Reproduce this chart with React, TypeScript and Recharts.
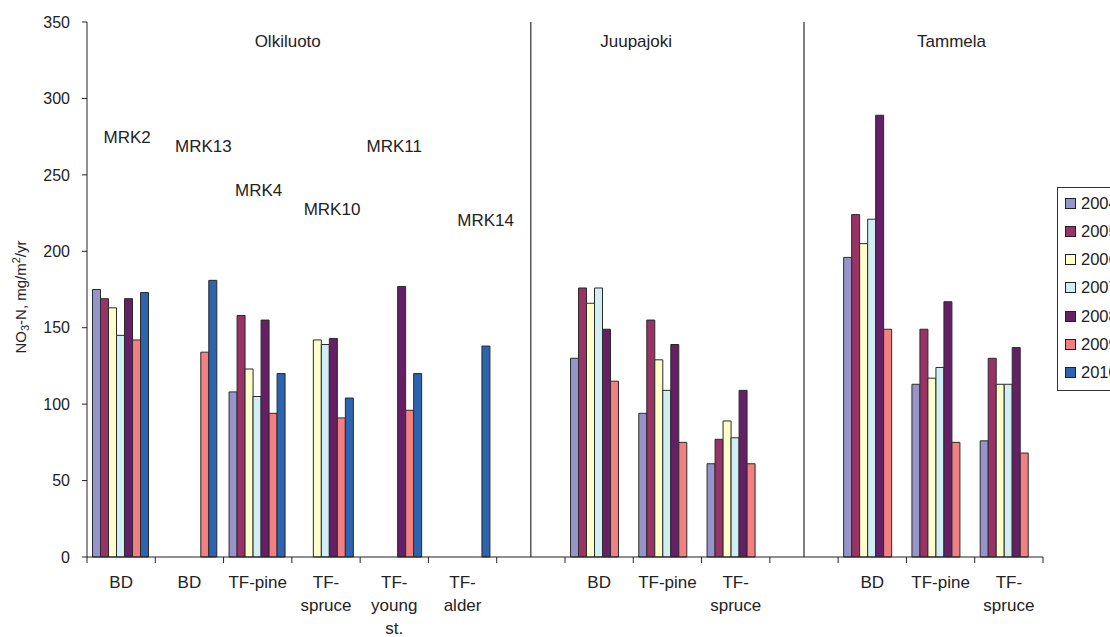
import React from "react";
import { BarChart, Bar, XAxis, YAxis, ReferenceLine, ReferenceDot } from "recharts";

const categories = [
  "BD", "BD", "TF-pine", "TF-\nspruce", "TF-\nyoung\nst.", "TF-\nalder", "",
  "BD", "TF-pine", "TF-\nspruce", "",
  "BD", "TF-pine", "TF-\nspruce",
];

const years = ["2004", "2005", "2006", "2007", "2008", "2009", "2010"];

const v2004 = [175, null, 108, null, null, null, null, 130, 94, 61, null, 196, 113, 76];
const v2005 = [169, null, 158, null, null, null, null, 176, 155, 77, null, 224, 149, 130];
const v2006 = [163, null, 123, 142, null, null, null, 166, 129, 89, null, 205, 117, 113];
const v2007 = [145, null, 105, 139, null, null, null, 176, 109, 78, null, 221, 124, 113];
const v2008 = [169, null, 155, 143, 177, null, null, 149, 139, 109, null, 289, 167, 137];
const v2009 = [142, 134, 94, 91, 96, null, null, 115, 75, 61, null, 149, 75, 68];
const v2010 = [173, 181, 120, 104, 120, 138, null, null, null, null, null, null, null, null];

const series = [v2004, v2005, v2006, v2007, v2008, v2009, v2010];
const colors = ["#9794C9", "#993366", "#FFFFCC", "#D0EEF4", "#651F66", "#F28080", "#2C64B0"];

const yTicks = [0, 50, 100, 150, 200, 250, 300, 350];

// separators sit in the empty categories
const separators = [6, 10];

// text placed in data coordinates (category index, value), dx nudges the text sideways
const notes = [
  { cat: 2, value: 337.5, text: "Olkiluoto", dx: 30 },
  { cat: 7, value: 337.5, text: "Juupajoki", dx: 37 },
  { cat: 12, value: 337.5, text: "Tammela", dx: 11 },
  { cat: 0, value: 275, text: "MRK2", dx: 6 },
  { cat: 1, value: 269, text: "MRK13", dx: 14 },
  { cat: 2, value: 240, text: "MRK4", dx: 1 },
  { cat: 3, value: 228, text: "MRK10", dx: 6 },
  { cat: 4, value: 269, text: "MRK11", dx: 0 },
  { cat: 5, value: 220.5, text: "MRK14", dx: 23 },
];

const data = categories.map((label, i) => {
  const row: any = { id: "c" + i, label };
  years.forEach((yr, s) => {
    row["y" + yr] = series[s][i];
  });
  return row;
});

const W = 1110;
const H = 637;
const Y_AXIS_W = 87;
const RIGHT = 67;
const BAND = (W - Y_AXIS_W - RIGHT) / categories.length;
const FONT = "'Liberation Sans', Arial, sans-serif";
const INK = "#222";

const XTick = (props: any) => {
  const { x, y, index } = props;
  const lines = categories[index].split("\n");
  const left = x - BAND / 2;
  return (
    <g>
      <line x1={left} x2={left} y1={y} y2={y + 6} stroke={INK} />
      {index === categories.length - 1 && (
        <line x1={x + BAND / 2} x2={x + BAND / 2} y1={y} y2={y + 6} stroke={INK} />
      )}
      {lines[0] !== "" && (
        <text x={x} y={y} textAnchor="middle" fontSize={17} fill={INK} fontFamily={FONT}>
          {lines.map((l, i) => (
            <tspan key={i} x={x} dy={i === 0 ? 31 : 23}>
              {l}
            </tspan>
          ))}
        </text>
      )}
    </g>
  );
};

const YLabel = () => (
  <text
    x={26}
    y={297}
    transform="rotate(-90 26 297)"
    textAnchor="middle"
    fontSize={15}
    fill={INK}
    fontFamily={FONT}
  >
    NO
    <tspan dy={3} fontSize={11}>3</tspan>
    <tspan dy={-3}>-N, mg/m</tspan>
    <tspan dy={-6} fontSize={11}>2</tspan>
    <tspan dy={6}>/yr</tspan>
  </text>
);

const Legend = () => (
  <div
    style={{
      position: "absolute",
      left: 1057,
      top: 187,
      width: 120,
      height: 204,
      border: "1px solid #333",
      boxSizing: "border-box",
      background: "#fff",
      fontFamily: FONT,
      fontSize: 16.5,
      color: INK,
    }}
  >
    {years.map((yr, i) => (
      <div
        key={yr}
        style={{
          position: "absolute",
          left: 7,
          top: 15 + i * 28.3 - 9,
          height: 18,
          display: "flex",
          alignItems: "center",
          whiteSpace: "nowrap",
        }}
      >
        <span
          style={{
            width: 9,
            height: 9,
            background: colors[i],
            border: "1px solid #222",
            marginRight: 5,
            display: "inline-block",
          }}
        />
        {yr}
      </div>
    ))}
  </div>
);

export default function App() {
  return (
    <div
      style={{
        position: "absolute",
        left: 0,
        top: 0,
        width: W,
        height: H,
        overflow: "hidden",
        background: "#fff",
      }}
    >
      <BarChart
        width={W}
        height={H}
        data={data}
        margin={{ top: 22, right: RIGHT, bottom: 0, left: 0 }}
        barCategoryGap={5.5}
        barGap={0}
      >
        <XAxis
          dataKey="id"
          height={80}
          interval={0}
          tickSize={0}
          tickMargin={0}
          tickLine={false}
          tick={<XTick />}
          stroke={INK}
        />
        <YAxis
          width={Y_AXIS_W}
          domain={[0, 350]}
          ticks={yTicks}
          tickSize={5}
          tickMargin={12}
          stroke={INK}
          tick={{ fill: INK, fontSize: 16, fontFamily: FONT }}
          label={{ content: () => <YLabel /> }}
        />
        {separators.map((c) => (
          <ReferenceLine key={c} x={"c" + c} stroke="#000" strokeWidth={1} />
        ))}
        {years.map((yr, i) => (
          <Bar
            key={yr}
            dataKey={"y" + yr}
            name={yr}
            fill={colors[i]}
            stroke="#2a2a2a"
            strokeWidth={1}
            isAnimationActive={false}
          />
        ))}
        {notes.map((n) => (
          <ReferenceDot
            key={n.text}
            x={"c" + n.cat}
            y={n.value}
            r={0}
            shape={(p: any) => (
              <text
                x={p.cx + n.dx}
                y={p.cy}
                dy="0.36em"
                textAnchor="middle"
                fontSize={17}
                fill={INK}
                fontFamily={FONT}
              >
                {n.text}
              </text>
            )}
          />
        ))}
      </BarChart>
      <Legend />
    </div>
  );
}
